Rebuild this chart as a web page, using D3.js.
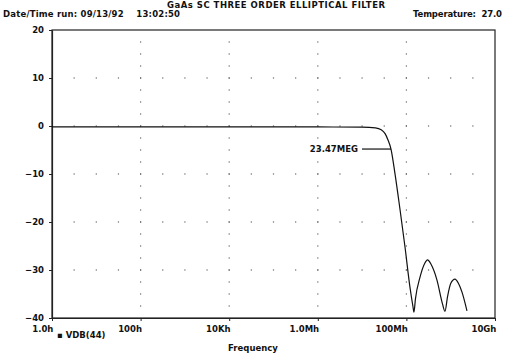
<!DOCTYPE html>
<html>
<head>
<meta charset="UTF-8">
<script src="https://cdn.jsdelivr.net/npm/d3@7"></script>
<style>
  body { margin: 0; background: #fff; }
  text { font-family: "DejaVu Sans", sans-serif; font-weight: bold; font-size: 8.5px; fill: #111; white-space: pre; }
</style>
</head>
<body>
<script>
// response of the filter
var freqs = [1, 1e6, 1e7, 2e7, 27e6, 33e6, 38e6, 44.9e6, 55e6, 72e6, 93e6, 120e6, 140e6, 148e6, 160e6,
             203e6, 260e6, 300e6, 360e6, 490e6, 650e6, 743e6, 850e6, 1.0e9, 1.25e9, 1.5e9, 1.8e9, 2.33e9];
var vdb = [-0.2, -0.2, -0.25, -0.4, -0.8, -1.6, -2.8, -4.8, -9.8, -17.5, -25.2, -33.5, -37.5, -38.8, -36,
           -31.5, -28.6, -27.9, -28.8, -32.1, -37, -38.6, -35.5, -32.8, -31.9, -32.8, -34.6, -38.5];

var xTicks = [1, 1e2, 1e4, 1e6, 1e8, 1e10];
var xTickLabels = ["1.0h", "100h", "10Kh", "1.0Mh", "100Mh", "10Gh"];
var yTicks = [20, 10, 0, -10, -20, -30, -40];
var gridRows = [10, 0, -10, -20, -30];
var gridCols = [1e2, 1e4, 1e6, 1e8];

var marker = { f: 44.9e6, db: -4.8, label: "23.47MEG" };

var width = 514, height = 355;
var x0 = 52, x1 = 495, y0 = 30, y1 = 318;

var x = d3.scaleLog().domain([1, 1e10]).range([x0, x1]);
var y = d3.scaleLinear().domain([-40, 20]).range([y1, y0]);

var svg = d3.select("body").append("svg")
    .attr("width", width).attr("height", height);

// header
svg.append("text").attr("x", 276).attr("y", 8).attr("text-anchor", "middle")
    .attr("textLength", 218).text("GaAs SC THREE ORDER ELLIPTICAL FILTER");
svg.append("text").attr("x", 3).attr("y", 17)
    .attr("textLength", 177).text("Date/Time run: 09/13/92    13:02:50");
svg.append("text").attr("x", 413).attr("y", 17)
    .attr("textLength", 89).text("Temperature:  27.0");

// dotted grid
var dots = [];
gridRows.forEach(function(d) {
    for (var e = 0.5; e < 10; e += 0.5) dots.push([x(Math.pow(10, e)), y(d)]);
});
gridCols.forEach(function(f) {
    for (var v = -37.5; v < 20; v += 2.5) dots.push([x(f), y(v)]);
});
svg.append("g").selectAll("rect").data(dots).enter().append("rect")
    .attr("x", function(d) { return d[0] - 0.6; })
    .attr("y", function(d) { return d[1] - 0.6; })
    .attr("width", 1.2).attr("height", 1.2)
    .attr("fill", "#666");

// frame
svg.append("rect").attr("x", x0).attr("y", y0)
    .attr("width", x1 - x0).attr("height", y1 - y0)
    .attr("fill", "none").attr("stroke", "#222").attr("stroke-width", 1.2);

// axes
var yAxis = svg.append("g").attr("transform", "translate(" + x0 + ",0)")
    .call(d3.axisLeft(y).tickValues(yTicks).tickSize(3).tickSizeOuter(0).tickPadding(5));
yAxis.select(".domain").attr("stroke", "#222").attr("stroke-width", 1.2);

var xAxis = svg.append("g").attr("transform", "translate(0," + y1 + ")")
    .call(d3.axisBottom(x).tickValues(xTicks).tickSize(3).tickSizeOuter(0)
        .tickFormat(function(d, i) { return xTickLabels[i]; }));
xAxis.select(".domain").attr("stroke", "#222").attr("stroke-width", 1.2);
xAxis.selectAll("text").attr("text-anchor", "end").attr("dx", "0.1em").attr("y", 8).attr("dy", "0.71em");

svg.selectAll(".tick text").style("font-family", "DejaVu Sans, sans-serif")
    .style("font-weight", "bold").style("font-size", "8.5px").attr("fill", "#111");
svg.selectAll(".tick line").attr("stroke", "#222");

// curve
var pts = freqs.map(function(f, i) { return [f, vdb[i]]; });
svg.append("path").datum(pts)
    .attr("fill", "none").attr("stroke", "#111").attr("stroke-width", 1.2)
    .attr("d", d3.line()
        .x(function(d) { return x(d[0]); })
        .y(function(d) { return y(d[1]); })
        .curve(d3.curveMonotoneX));

// marker label
svg.append("line")
    .attr("x1", x(marker.f) - 29).attr("x2", x(marker.f))
    .attr("y1", y(marker.db)).attr("y2", y(marker.db))
    .attr("stroke", "#111").attr("stroke-width", 1.2);
svg.append("text").attr("x", x(marker.f) - 33).attr("y", y(marker.db) + 3)
    .attr("text-anchor", "end").text(marker.label);

// legend and x title
svg.append("text").attr("x", 57).attr("y", 338).text("\u25AA VDB(44)");
svg.append("text").attr("x", 253).attr("y", 351).attr("text-anchor", "middle").text("Frequency");
</script>
</body>
</html>
